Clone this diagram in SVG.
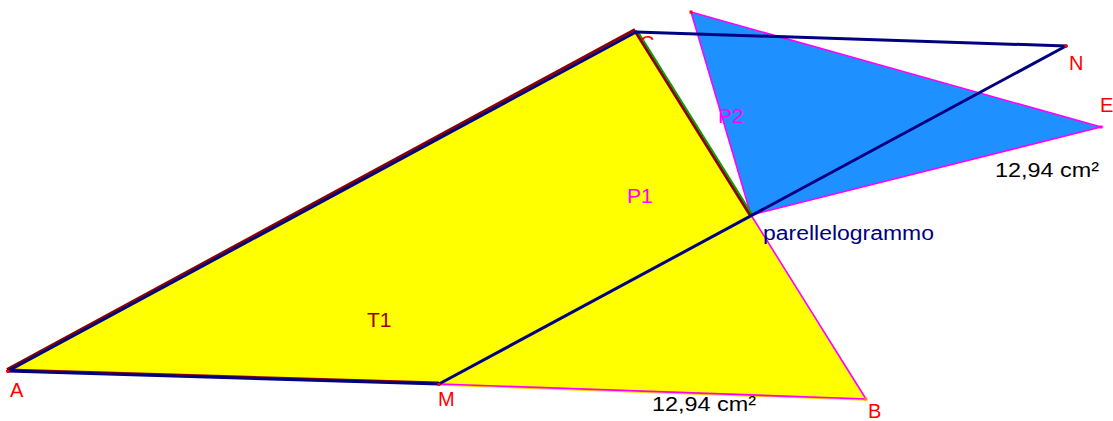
<svg xmlns="http://www.w3.org/2000/svg" width="1113" height="421" viewBox="0 0 1113 421">
<defs>
<style>
text{font-family:"Liberation Sans",Arial,sans-serif;font-size:20px}
.pt{fill:#FF0000}
.lb{font-size:21px}
.nv{stroke:#000080;stroke-width:3;fill:none;stroke-linecap:round}
.dr{stroke:#8B0000;stroke-width:3;fill:none}
.mg{stroke:#FF00FF;stroke-width:1.6;fill:none}
</style>
<clipPath id="cclip"><rect x="638" y="30" width="20" height="11"/></clipPath>
</defs>
<rect width="1113" height="421" fill="#FFFFFF"/>
<g id="T1">
<polygon points="8,371 439,384 866,399 636,31" fill="#FFFF00"/>
</g>
<g id="P2">
<polygon points="691,12 1101,127 751,215" fill="#1E90FF" stroke="#FF00FF" stroke-width="1.6"/>
</g>
<g id="connectors">
<line class="dr" x1="7" y1="369.5" x2="635" y2="29.5"/>
<line class="dr" x1="8" y1="370" x2="439" y2="383"/>
<line x1="439" y1="384.5" x2="866" y2="399.5" stroke="#FFD700" stroke-width="2.5"/>
<line class="mg" x1="439" y1="384" x2="866" y2="399"/>
<line class="dr" x1="635" y1="31" x2="750" y2="215"/>
<line x1="637.5" y1="31" x2="752.5" y2="215" stroke="#00A000" stroke-width="1.8"/>
<line class="mg" x1="751" y1="215" x2="866" y2="399"/>
<line class="nv" x1="8" y1="371" x2="636" y2="32"/>
<line class="nv" x1="8" y1="371" x2="439" y2="384"/>
<line class="nv" x1="636" y1="32" x2="1066" y2="46"/>
<line class="nv" x1="439" y1="384" x2="1066" y2="46"/>
</g>
<g id="points" fill="#FF0000">
<rect x="689.5" y="10.5" width="3" height="3"/>
<rect x="1064.5" y="44.5" width="3" height="3"/>
<rect x="1099.5" y="125.5" width="3" height="3" fill="#FF00FF"/>
<rect x="864.5" y="397.5" width="3" height="3" fill="#FF8C00"/>
<rect x="437.5" y="383" width="3" height="3"/>
<rect x="6.5" y="370" width="3" height="3"/>
</g>
<g id="labels">
<text class="pt" x="10" y="397">A</text>
<text class="pt" x="438" y="406">M</text>
<text class="pt" x="868" y="418">B</text>
<text class="pt" x="640" y="50" clip-path="url(#cclip)">C</text>
<text class="pt" x="1069" y="70">N</text>
<text class="pt" x="1100" y="112">E</text>
<text class="lb" x="718" y="123" fill="#FF00FF">P2</text>
<text class="lb" x="627" y="203" fill="#FF00FF">P1</text>
<text class="lb" x="367" y="327" fill="#990000">T1</text>
<text x="652" y="411" fill="#000000" textLength="104" lengthAdjust="spacingAndGlyphs">12,94 cm²</text>
<text x="995" y="177" fill="#000000" textLength="104" lengthAdjust="spacingAndGlyphs">12,94 cm²</text>
<text x="763" y="240" fill="#000080" textLength="171" lengthAdjust="spacingAndGlyphs">parellelogrammo</text>
</g>
</svg>
